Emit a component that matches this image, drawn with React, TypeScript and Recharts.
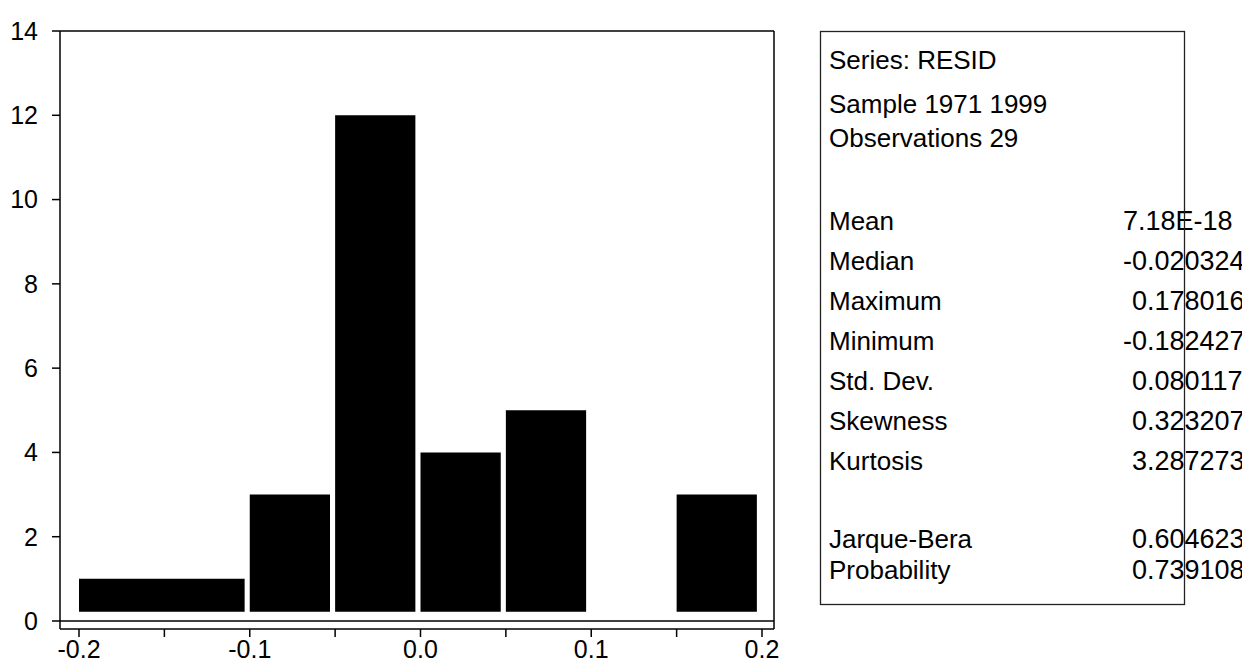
import React from 'react';
import { ComposedChart, Line, XAxis, YAxis, ReferenceArea, ReferenceLine } from 'recharts';

// histogram bins of RESID
const binStart = [-0.2, -0.1, -0.05, 0.0, 0.05, 0.1, 0.15];
const binEnd = [-0.1, -0.05, 0.0, 0.05, 0.1, 0.15, 0.2];
const binCount = [1, 3, 12, 4, 5, 0, 3];

const xTicks = [-0.2, -0.15, -0.1, -0.05, 0, 0.05, 0.1, 0.15, 0.2];
const yTicks = [0, 2, 4, 6, 8, 10, 12, 14];

const headerLines = ['Series: RESID', 'Sample 1971 1999', 'Observations 29'];
const statLabels = ['Mean', 'Median', 'Maximum', 'Minimum', 'Std. Dev.', 'Skewness', 'Kurtosis', 'Jarque-Bera', 'Probability'];
const statValues = ['7.18E-18', '-0.020324', '0.178016', '-0.182427', '0.080117', '0.323207', '3.287273', '0.604623', '0.739108'];

// layout
const W = 1242;
const H = 670;
const FONT = '"Liberation Sans", Arial, sans-serif';
const X_DOMAIN: [number, number] = [-0.21113, 0.20703];
const Y_DOMAIN: [number, number] = [-0.19, 14];
const BAR_BASE = 0.22;
const BAR_GAP = 0.003;
const headerY = [69, 113, 147];
const statY = [230, 270, 310, 350, 390, 430, 470, 548, 579];
const VAL_FS = 27;
const VAL_X = 1123;

const data = binStart.map((s, i) => ({ mid: (s + binEnd[i]) / 2, count: binCount[i] }));

const fmtX = (v: number) => (Math.abs(v * 10 - Math.round(v * 10)) < 1e-6 ? v.toFixed(1) : '');

// numbers without a sign are pushed right by the width of a minus sign
const valX = (t: string, i: number) => (i === 0 || t.startsWith('-') ? VAL_X : VAL_X + 0.333 * VAL_FS);

const StatsBox = () => (
  <svg width={W} height={H} style={{ position: 'absolute', left: 0, top: 0, pointerEvents: 'none' }}>
    <g fontFamily={FONT} fontSize={26} fill="#000">
      {headerLines.map((t, i) => (
        <text key={t} x={829} y={headerY[i]}>{t}</text>
      ))}
      {statLabels.map((t, i) => (
        <text key={t} x={829} y={statY[i]}>{t}</text>
      ))}
      {statValues.map((t, i) => (
        <text key={i} x={valX(t, i)} y={statY[i]} fontSize={VAL_FS}>{t}</text>
      ))}
    </g>
    <rect x={820.5} y={31.5} width={364} height={573} fill="none" stroke="#222" strokeWidth={1.3} />
  </svg>
);

const App = () => {
  return (
    <div style={{ position: 'absolute', left: 0, top: 0, width: W, height: H, background: '#fff' }}>
      <ComposedChart width={W} height={H} data={data} margin={{ top: 31, right: W - 774, bottom: 0, left: 0 }}>
        <XAxis
          type="number"
          dataKey="mid"
          domain={X_DOMAIN}
          allowDataOverflow
          ticks={xTicks}
          interval={0}
          tickFormatter={fmtX}
          height={41}
          tickSize={8}
          tickMargin={3}
          stroke="#000"
          strokeWidth={1.5}
          tick={{ fill: '#000', fontSize: 25, fontFamily: FONT }}
        />
        <YAxis
          type="number"
          domain={Y_DOMAIN}
          allowDataOverflow
          ticks={yTicks}
          interval={0}
          width={60}
          tickSize={8}
          tickMargin={14}
          stroke="#000"
          strokeWidth={1.5}
          tick={{ fill: '#000', fontSize: 25, fontFamily: FONT }}
        />
        <ReferenceLine y={14} stroke="#000" strokeWidth={1.5} />
        <ReferenceLine y={0} stroke="#000" strokeWidth={1.5} />
        <ReferenceLine x={X_DOMAIN[1]} stroke="#000" strokeWidth={1.5} />
        {binStart.map((s, i) =>
          binCount[i] > 0 ? (
            <ReferenceArea
              key={i}
              x1={s}
              x2={binEnd[i] - BAR_GAP}
              y1={BAR_BASE}
              y2={binCount[i]}
              fill="#000"
              fillOpacity={1}
              stroke="none"
            />
          ) : null
        )}
        <Line dataKey="count" stroke="none" dot={false} activeDot={false} isAnimationActive={false} />
      </ComposedChart>
      <StatsBox />
    </div>
  );
};

export default App;
